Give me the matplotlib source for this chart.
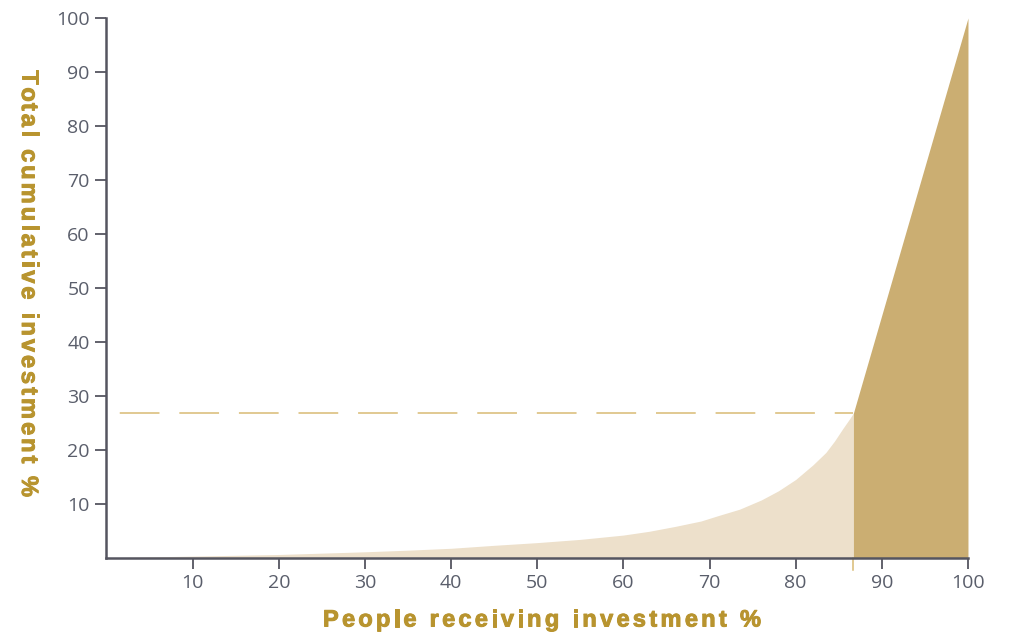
import matplotlib
matplotlib.use("Agg")
import matplotlib.pyplot as plt
import matplotlib.patheffects as pe

# Cumulative share of investment against share of people (sorted ascending)
people_pct = [0, 5, 10, 15, 20, 25, 30, 35, 40, 45, 50, 55, 60, 63, 66, 69, 71,
              73.5, 76, 78, 80, 82, 83.5, 84.5, 85.5, 86.2, 86.7]
invest_pct = [0, 0.15, 0.3, 0.45, 0.6, 0.85, 1.1, 1.4, 1.75, 2.3, 2.8, 3.4, 4.2, 4.9,
              5.8, 6.8, 7.8, 9.0, 10.7, 12.4, 14.5, 17.2, 19.5, 21.6, 24.0, 25.6, 26.8]

# Top group: straight rise from the threshold to the full total
top_people = [86.7, 100]
top_invest = [26.8, 100]

threshold_x = 86.7
threshold_y = 26.8

x_ticks = [10, 20, 30, 40, 50, 60, 70, 80, 90, 100]
y_ticks = [10, 20, 30, 40, 50, 60, 70, 80, 90, 100]

x_title = "People receiving investment %"
y_title = "Total cumulative investment %"

LIGHT = "#ede0cb"
DARK = "#cbae72"
GOLD = "#b8942f"
DASH = "#d9bb74"
AXIS = "#555560"
TICKTXT = "#5a5e6b"

W, H = 1012, 634
fig = plt.figure(figsize=(W / 100, H / 100), dpi=100)
ax = fig.add_axes([0.1052, 0.1203, 0.9565 - 0.1052, 0.8513])

ax.fill_between(people_pct, invest_pct, 0, color=LIGHT, linewidth=0)
ax.fill_between(top_people, top_invest, 0, color=DARK, linewidth=0)

# Threshold guide
ax.plot([0, threshold_x], [threshold_y, threshold_y], color=DASH, lw=1.1,
        linestyle=(30, (26, 13)), solid_capstyle="butt")
ax.plot([threshold_x, threshold_x], [0, -2.2], color=DASH, lw=1.1, clip_on=False)

ax.set_xlim(0, 100)
ax.set_ylim(0, 100)
ax.set_xticks(x_ticks)
ax.set_yticks(y_ticks)

for side in ("top", "right"):
    ax.spines[side].set_visible(False)
for side in ("left", "bottom"):
    ax.spines[side].set_color(AXIS)
    ax.spines[side].set_linewidth(1.8)

ax.tick_params(axis="both", direction="out", length=8, width=1.3, color=AXIS,
               labelcolor=TICKTXT, labelsize=14, pad=4)
for lab in ax.get_xticklabels() + ax.get_yticklabels():
    lab.set_fontfamily("Open Sans")

renderer = fig.canvas.get_renderer()
title_kw = dict(color=GOLD, fontsize=17, fontweight="bold", family="Liberation Sans")
heavy = [pe.withStroke(linewidth=0.7, foreground=GOLD)]


def text_width(s):
    t = fig.text(0, 0, s, **title_kw)
    w = t.get_window_extent(renderer).width
    t.remove()
    return w


def tracked_text(s, x0, y0, length, vertical=False):
    """Draw s letter by letter from (x0, y0) px, spread over `length` px."""
    ref = text_width("x")
    offsets = [0.0] + [text_width(s[:i] + "x") - ref for i in range(1, len(s))]
    natural = text_width(s)
    track = (length - natural) / (len(s) - 1)
    for i, ch in enumerate(s):
        if ch == " ":
            continue
        d = offsets[i] + i * track
        if vertical:
            fig.text(x0 / W, 1 - (y0 + d) / H, ch, rotation=270, path_effects=heavy,
                     rotation_mode="anchor", ha="left", va="baseline", **title_kw)
        else:
            fig.text((x0 + d) / W, 1 - y0 / H, ch, ha="left", va="baseline",
                     path_effects=heavy, **title_kw)


tracked_text(x_title, 323, 626.5, 438)
tracked_text(y_title, 22, 70, 427, vertical=True)

fig.savefig("out.png", dpi=100)
